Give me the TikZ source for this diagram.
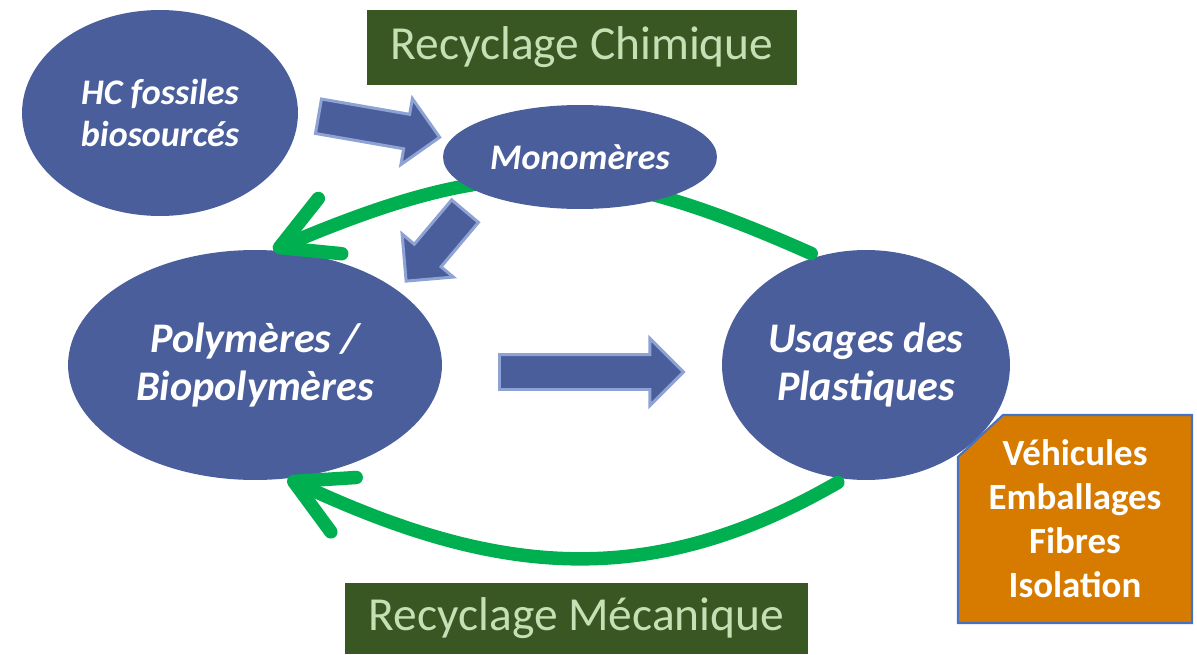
\documentclass[tikz,border=0pt]{standalone}
\usepackage{fontspec}
\setmainfont{Carlito}
\usepackage{tikz}
\usetikzlibrary{arrows.meta,shapes.geometric,shapes.arrows}
\definecolor{bleuBulle}{HTML}{4A5E9C}
\definecolor{bleuBord}{HTML}{8FA2D4}
\definecolor{vertFleche}{HTML}{00B050}
\definecolor{vertFonce}{HTML}{385723}
\definecolor{vertClair}{HTML}{C5E0B4}
\definecolor{orangeBoite}{HTML}{D77B00}
\definecolor{bleuCadre}{HTML}{4472C4}
\tikzset{
  bulle/.style={ellipse,fill=bleuBulle,inner sep=0pt,text=white,align=center},
  petiteBulle/.style={bulle,font=\fontsize{20.5}{23.8}\selectfont\bfseries\itshape},
  grandeBulle/.style={bulle,font=\fontsize{24}{27.8}\selectfont\bfseries\itshape},
  bloc/.style={single arrow,fill=bleuBulle,draw=bleuBord,line width=1.7pt,anchor=tail,
    single arrow head extend=0.32cm,minimum width=1.28cm,inner xsep=0pt,inner ysep=0.32cm},
  boucle/.style={vertFleche,line width=0.27cm,line cap=round,
    -{Straight Barb[length=1.1cm,width=1.2cm,round]},shorten <=0.14cm},
  titre/.style={fill=vertFonce,text=vertClair,font=\fontsize{27}{32}\selectfont,inner sep=0pt},
  liste/.style={text=white,align=center,font=\fontsize{21}{25}\selectfont\bfseries}
}
\begin{document}
\begin{tikzpicture}[x=0.02cm,y=0.02cm]
\useasboundingbox (0,0) rectangle (1197,654);
\node[titre,minimum width=8.6cm,minimum height=1.5cm] (chimique) at (582,606.5) {Recyclage Chimique};
\node[titre,minimum width=9.26cm,minimum height=1.42cm] (mecanique) at (576.5,35.5) {Recyclage Mécanique};
\node[petiteBulle,minimum width=5.52cm,minimum height=4.12cm] (fossiles) at (160,541) {HC fossiles\\biosourcés};
\node[grandeBulle,minimum width=7.48cm,minimum height=4.6cm] (polymeres) at (255,289) {Polymères /\\Biopolymères};
\node[grandeBulle,minimum width=5.76cm,minimum height=4.6cm] (usages) at (866,289) {Usages des\\Plastiques};
\draw[boucle] (usages.114) to[out=156,in=23,looseness=1.15] (polymeres.81);
\draw[boucle] (usages.259) to[out=210,in=-25,looseness=1.05] (polymeres.286);
\node[petiteBulle,minimum width=5.48cm,minimum height=2.08cm] (monomeres) at (580,497) {Monomères};
\node[bloc,minimum height=2.46cm,rotate=-9.85] (fleche1) at (317,538) {};
\node[bloc,minimum height=1.83cm,rotate=-130.1] (fleche2) at (466,444) {};
\node[bloc,minimum height=3.68cm] (fleche3) at (498,282) {};
\filldraw[fill=orangeBoite,draw=bleuCadre,line width=1.2pt] (958,31) -- (958,197) -- (1003,239) -- (1192,239) -- (1192,31) -- cycle;
\node[liste] (usagesListe) at (1075,135) {Véhicules\\Emballages\\Fibres\\Isolation};
\end{tikzpicture}
\end{document}
